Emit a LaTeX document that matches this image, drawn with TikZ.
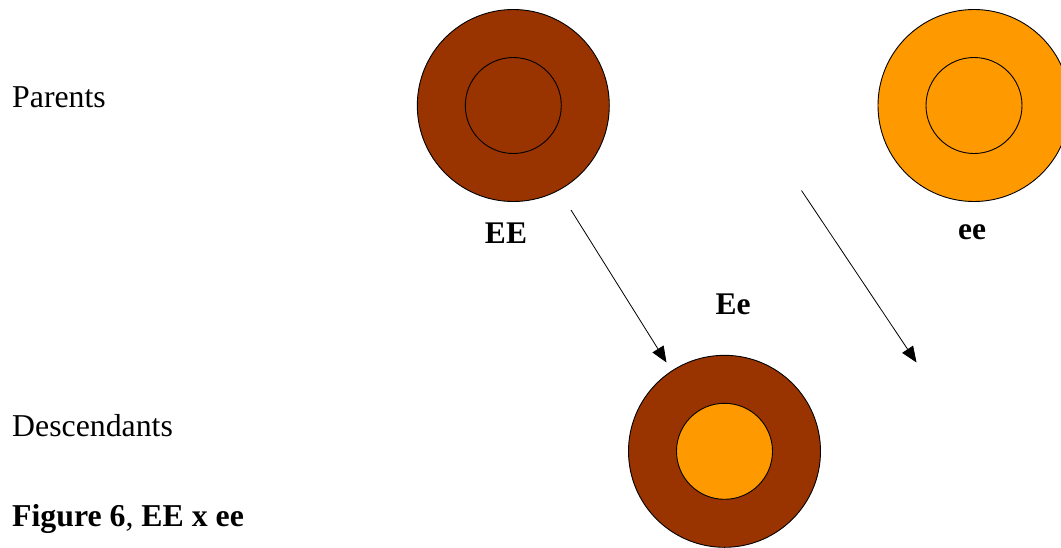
\documentclass[tikz,border=0pt]{standalone}
\usepackage{fontspec}
\setmainfont{Liberation Serif}
\usetikzlibrary{arrows.meta}
\definecolor{brown}{HTML}{993300}
\definecolor{orng}{HTML}{FF9900}
\begin{document}
\begin{tikzpicture}[x=1pt,y=-1pt,
  outer/.style={circle,draw=black,line width=0.9pt,minimum size=192pt,inner sep=0pt},
  inner/.style={circle,draw=black,line width=0.9pt,minimum size=96pt,inner sep=0pt},
  lbl/.style={font=\fontsize{31.5}{37}\selectfont\bfseries,inner sep=0pt},
  side/.style={font=\fontsize{31.8}{37}\selectfont,anchor=west,inner sep=0pt},
  arr/.style={line width=0.8pt,-{Triangle[length=16pt,width=13pt]}}]
\useasboundingbox (0,0) rectangle (1061,547);
% parents
\node[outer,fill=brown] (EEo) at (513.3,105.5) {};
\node[inner,fill=brown] (EEi) at (513.3,105.5) {};
\node[outer,fill=orng] (eeo) at (974,105.5) {};
\node[inner,fill=orng] (eei) at (974,105.5) {};
% descendant
\node[outer,fill=brown] (Eeo) at (724.5,451.3) {};
\node[inner,fill=orng] (Eei) at (724.5,451.3) {};
% labels
\node[lbl] (lEE) at (506,233) {EE};
\node[lbl] (lee) at (972,232) {ee};
\node[lbl] (lEe) at (733,304) {Ee};
\node[side] (par) at (12,97) {Parents};
\node[side] (desc) at (12,426) {Descendants};
\node[side] (fig) at (12,519) {\textbf{Figure 6}, \textbf{EE x ee}};
% arrows
\coordinate (a1s) at (571,210);
\coordinate (a1e) at (666.5,362.5);
\coordinate (a2s) at (801.5,190.5);
\coordinate (a2e) at (916.5,362.5);
\draw[arr] (a1s) -- (a1e);
\draw[arr] (a2s) -- (a2e);
\end{tikzpicture}
\end{document}
